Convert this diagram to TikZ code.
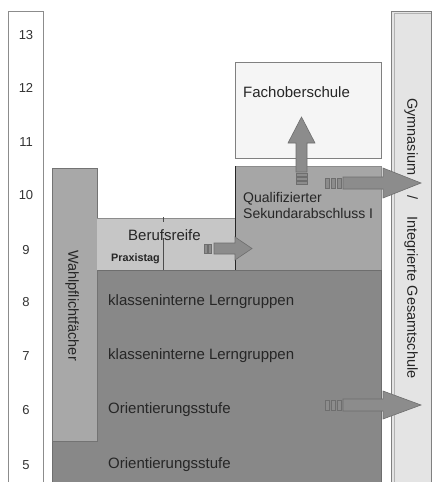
\documentclass[tikz,border=0pt]{standalone}
\usepackage{fontspec}
\setmainfont{Liberation Sans}
\definecolor{cdark}{RGB}{136,136,136}
\definecolor{cqual}{RGB}{166,166,166}
\definecolor{cwahl}{RGB}{168,168,168}
\definecolor{cberuf}{RGB}{198,198,198}
\definecolor{cfos}{RGB}{245,245,245}
\definecolor{cgym}{RGB}{228,228,228}
\definecolor{cline}{RGB}{110,110,110}
\definecolor{carrow}{RGB}{140,140,140}
\begin{document}
\begin{tikzpicture}[x=1pt,y=-1pt,
  blk/.style={draw=cline,line width=0.8pt},
  lbl/.style={font=\fontsize{15}{16}\selectfont,anchor=west,inner sep=0pt,text=black!85},
  num/.style={font=\fontsize{13}{15}\selectfont,inner sep=0pt,text=black!80},
  fat/.style={fill=carrow,draw=cline,line width=0.6pt},
  tick/.style={draw=cline,line width=0.6pt,fill=carrow}]
\useasboundingbox (0,0) rectangle (435,482);
\fill[white] (0,0) rectangle (435,482);
% year column
\draw[draw=black!45,line width=0.8pt] (8,482) -- (8,11) -- (43,11) -- (43,482);
\foreach \n/\y in {13/35,12/88,11/142,10/195,9/250,8/302,7/356,6/410,5/465}
  \node[num] (y\n) at (26,\y) {\n};
% Gymnasium column
\draw[blk,fill=cgym,draw=black!50] (391,483) -- (391,11) -- (431,11) -- (431,483);
\draw[black!30] (394,483) -- (394,13) -- (431,13);
\node[font=\fontsize{14.5}{16}\selectfont,rotate=-90,anchor=west,inner sep=0pt,text=black!85] (gym) at (411,98) {Gymnasium\hspace{20pt}/\hspace{17pt}Integrierte Gesamtschule};
% main dark block
\draw[blk,fill=cdark] (52,482) -- (52,270) -- (381,270) -- (381,482);
% Wahlpflichtfaecher
\draw[blk,fill=cwahl,draw=black!55] (52,168) rectangle (97,441);
\node[font=\fontsize{14.5}{16}\selectfont,rotate=-90,anchor=west,inner sep=0pt,text=black!85] (wahl) at (72,250) {Wahlpflichtfächer};
% Berufsreife
\fill[cberuf] (97,218) rectangle (235,270);
\draw[black!45,line width=0.8pt] (97,218) -- (235,218);
\draw[black!70,line width=0.8pt] (163,238) -- (163,270);
\draw[black!70,line width=0.6pt] (163,217) -- (163,222);
\node[lbl] (beruf) at (128,235) {Berufsreife};
\node[font=\bfseries\fontsize{10.8}{12}\selectfont,anchor=west,inner sep=0pt,text=black!85] (praxis) at (111,259) {Praxistag};
% Qualifizierter
\fill[cqual] (235,166) rectangle (381,270);
\draw[black!45,line width=0.8pt] (235,166) -- (381,166) -- (381,270);
\draw[black!85,line width=0.9pt] (235,166) -- (235,270);
\node[lbl,align=left,font=\fontsize{14}{16}\selectfont] (qual) at (243,205) {Qualifizierter\\Sekundarabschluss I};
% Fachoberschule
\draw[blk,fill=cfos,draw=black!50] (235,62) rectangle (381,158);
\node[lbl] (fos) at (243,92) {Fachoberschule};
% lower texts
\node[lbl] (kl1) at (108,302) {klasseninterne Lerngruppen};
\node[lbl] (kl2) at (108,356) {klasseninterne Lerngruppen};
\node[lbl] (or1) at (108,410) {Orientierungsstufe};
\node[lbl] (or2) at (108,465) {Orientierungsstufe};
% up arrow
\draw[fat] (296,172) -- (296,143) -- (288,143) -- (301.5,117) -- (315,143) -- (307,143) -- (307,172) -- cycle;
\foreach \y in {173,177,181} \draw[tick] (296,\y) rectangle (307,\y+3);
% right arrow top
\draw[fat] (343,177) -- (383,177) -- (383,168) -- (421,183) -- (383,198) -- (383,189) -- (343,189) -- cycle;
\foreach \x in {325,331,337} \draw[tick] (\x,178) rectangle (\x+4,188);
% right arrow bottom
\draw[fat] (343,399) -- (383,399) -- (383,391) -- (421,405) -- (383,419) -- (383,411) -- (343,411) -- cycle;
\foreach \x in {325,331,337} \draw[tick] (\x,400) rectangle (\x+4,410);
% Berufsreife arrow
\draw[fat] (214,243) -- (235,243) -- (235,237) -- (252,248.5) -- (235,260) -- (235,254) -- (214,254) -- cycle;
\foreach \x in {204,208} \draw[tick] (\x,244) rectangle (\x+3,253);
\end{tikzpicture}
\end{document}
